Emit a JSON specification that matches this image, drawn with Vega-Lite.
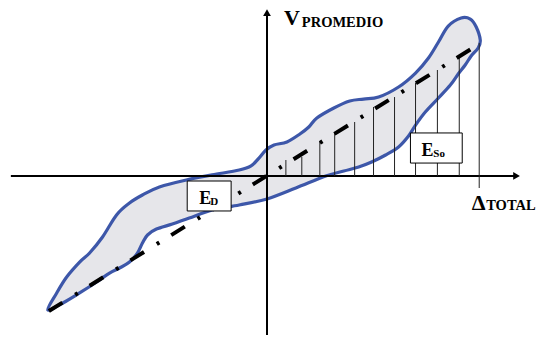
{
  "$schema": "https://vega.github.io/schema/vega-lite/v6.json",
  "width": 536,
  "height": 337,
  "padding": 0,
  "autosize": {"type": "fit", "contains": "padding"},
  "background": "white",
  "view": {"stroke": null},
  "datasets": {
    "loop": [
      {"i": 0, "x": -1.033, "y": -1.015},
      {"i": 1, "x": -0.991, "y": -0.886},
      {"i": 2, "x": -0.944, "y": -0.765},
      {"i": 3, "x": -0.883, "y": -0.652},
      {"i": 4, "x": -0.836, "y": -0.583},
      {"i": 5, "x": -0.775, "y": -0.462},
      {"i": 6, "x": -0.709, "y": -0.295},
      {"i": 7, "x": -0.648, "y": -0.205},
      {"i": 8, "x": -0.587, "y": -0.144},
      {"i": 9, "x": -0.507, "y": -0.083},
      {"i": 10, "x": -0.380, "y": -0.030},
      {"i": 11, "x": -0.258, "y": 0.008},
      {"i": 12, "x": -0.131, "y": 0.045},
      {"i": 13, "x": -0.075, "y": 0.076},
      {"i": 14, "x": -0.038, "y": 0.136},
      {"i": 15, "x": -0.005, "y": 0.197},
      {"i": 16, "x": 0.033, "y": 0.235},
      {"i": 17, "x": 0.094, "y": 0.258},
      {"i": 18, "x": 0.155, "y": 0.318},
      {"i": 19, "x": 0.197, "y": 0.371},
      {"i": 20, "x": 0.235, "y": 0.439},
      {"i": 21, "x": 0.315, "y": 0.515},
      {"i": 22, "x": 0.390, "y": 0.568},
      {"i": 23, "x": 0.455, "y": 0.583},
      {"i": 24, "x": 0.526, "y": 0.598},
      {"i": 25, "x": 0.620, "y": 0.674},
      {"i": 26, "x": 0.700, "y": 0.780},
      {"i": 27, "x": 0.761, "y": 0.894},
      {"i": 28, "x": 0.808, "y": 1.015},
      {"i": 29, "x": 0.854, "y": 1.136},
      {"i": 30, "x": 0.915, "y": 1.197},
      {"i": 31, "x": 0.958, "y": 1.189},
      {"i": 32, "x": 0.986, "y": 1.129},
      {"i": 33, "x": 1.005, "y": 1.030},
      {"i": 34, "x": 0.995, "y": 0.970},
      {"i": 35, "x": 0.962, "y": 0.909},
      {"i": 36, "x": 0.934, "y": 0.841},
      {"i": 37, "x": 0.901, "y": 0.773},
      {"i": 38, "x": 0.864, "y": 0.689},
      {"i": 39, "x": 0.808, "y": 0.591},
      {"i": 40, "x": 0.746, "y": 0.485},
      {"i": 41, "x": 0.700, "y": 0.386},
      {"i": 42, "x": 0.667, "y": 0.303},
      {"i": 43, "x": 0.620, "y": 0.220},
      {"i": 44, "x": 0.559, "y": 0.159},
      {"i": 45, "x": 0.493, "y": 0.106},
      {"i": 46, "x": 0.432, "y": 0.068},
      {"i": 47, "x": 0.362, "y": 0.038},
      {"i": 48, "x": 0.277, "y": 0.000},
      {"i": 49, "x": 0.136, "y": -0.091},
      {"i": 50, "x": 0.000, "y": -0.174},
      {"i": 51, "x": -0.131, "y": -0.220},
      {"i": 52, "x": -0.258, "y": -0.258},
      {"i": 53, "x": -0.366, "y": -0.318},
      {"i": 54, "x": -0.446, "y": -0.364},
      {"i": 55, "x": -0.521, "y": -0.402},
      {"i": 56, "x": -0.563, "y": -0.447},
      {"i": 57, "x": -0.587, "y": -0.508},
      {"i": 58, "x": -0.610, "y": -0.583},
      {"i": 59, "x": -0.648, "y": -0.652},
      {"i": 60, "x": -0.695, "y": -0.697},
      {"i": 61, "x": -0.742, "y": -0.735},
      {"i": 62, "x": -0.803, "y": -0.803},
      {"i": 63, "x": -0.883, "y": -0.886},
      {"i": 64, "x": -0.962, "y": -0.962}
    ],
    "backbone": [
      {"i": 0, "x": -1.028, "y": -1.023},
      {"i": 1, "x": 1.0, "y": 1.0}
    ],
    "hatch": [
      {"x": 0.089, "y": 0, "y2": 0.121},
      {"x": 0.164, "y": 0, "y2": 0.144},
      {"x": 0.249, "y": 0, "y2": 0.258},
      {"x": 0.319, "y": 0, "y2": 0.326},
      {"x": 0.413, "y": 0, "y2": 0.409},
      {"x": 0.502, "y": 0, "y2": 0.523},
      {"x": 0.601, "y": 0, "y2": 0.598},
      {"x": 0.700, "y": 0, "y2": 0.705},
      {"x": 0.803, "y": 0, "y2": 0.803},
      {"x": 0.906, "y": 0, "y2": 0.894},
      {"x": 1.0, "y": -0.091, "y2": 1.008}
    ],
    "hAxis": [{"x": -1.207, "x2": 1.164, "y": 0}],
    "vAxis": [{"x": 0, "y": -1.205, "y2": 1.227}],
    "arrowRight": [{"x": 1.176, "y": 0}],
    "arrowUp": [{"x": 0, "y": 1.237}],
    "boxes": [
      {"x": -0.376, "x2": -0.169, "y": -0.038, "y2": -0.265},
      {"x": 0.676, "x2": 0.920, "y": 0.326, "y2": 0.098}
    ],
    "symbols": [
      {"x": 0.080, "y": 1.144, "t": "V"},
      {"x": 0.965, "y": -0.258, "t": "Δ"}
    ],
    "axisSubs": [
      {"x": 0.164, "y": 1.129, "t": "PROMEDIO"},
      {"x": 1.033, "y": -0.258, "t": "TOTAL"}
    ],
    "energies": [
      {"x": -0.319, "y": -0.212, "t": "E"},
      {"x": 0.728, "y": 0.152, "t": "E"}
    ],
    "energySubs": [
      {"x": -0.268, "y": -0.220, "t": "D"},
      {"x": 0.784, "y": 0.144, "t": "So"}
    ]
  },
  "encoding": {
    "x": {"field": "x", "type": "quantitative", "axis": null,
          "scale": {"domain": [-1.2582, 1.2582], "nice": false, "zero": false}},
    "y": {"field": "y", "type": "quantitative", "axis": null,
          "scale": {"domain": [-1.2197, 1.3333], "nice": false, "zero": false}}
  },
  "layer": [
    {
      "data": {"name": "loop"},
      "mark": {"type": "line", "interpolate": "cardinal-closed", "fill": "#e6e6ea",
               "stroke": "#3d57a9", "strokeWidth": 3.2, "strokeJoin": "round"},
      "encoding": {"order": {"field": "i", "type": "quantitative"}}
    },
    {
      "data": {"name": "hAxis"},
      "mark": {"type": "rule", "color": "black", "strokeWidth": 2},
      "encoding": {"x2": {"field": "x2"}}
    },
    {
      "data": {"name": "vAxis"},
      "mark": {"type": "rule", "color": "black", "strokeWidth": 2},
      "encoding": {"y2": {"field": "y2"}}
    },
    {
      "data": {"name": "hatch"},
      "mark": {"type": "rule", "color": "#222222", "strokeWidth": 1},
      "encoding": {"y2": {"field": "y2"}}
    },
    {
      "data": {"name": "backbone"},
      "mark": {"type": "line", "color": "black", "strokeWidth": 4,
               "strokeDash": [16, 15, 3, 14], "strokeCap": "butt"},
      "encoding": {"order": {"field": "i", "type": "quantitative"}}
    },
    {
      "data": {"name": "arrowRight"},
      "mark": {"type": "point", "shape": "triangle-right", "filled": true,
               "color": "black", "size": 60, "opacity": 1}
    },
    {
      "data": {"name": "arrowUp"},
      "mark": {"type": "point", "shape": "triangle-up", "filled": true,
               "color": "black", "size": 60, "opacity": 1}
    },
    {
      "data": {"name": "boxes"},
      "mark": {"type": "rect", "fill": "white", "stroke": "black", "strokeWidth": 1},
      "encoding": {"x2": {"field": "x2"}, "y2": {"field": "y2"}}
    },
    {
      "data": {"name": "symbols"},
      "mark": {"type": "text", "font": "Liberation Serif", "fontWeight": "bold",
               "fontSize": 22, "align": "left", "baseline": "alphabetic", "color": "black"},
      "encoding": {"text": {"field": "t"}}
    },
    {
      "data": {"name": "axisSubs"},
      "mark": {"type": "text", "font": "Liberation Serif", "fontWeight": "bold",
               "fontSize": 14.5, "align": "left", "baseline": "alphabetic", "color": "black"},
      "encoding": {"text": {"field": "t"}}
    },
    {
      "data": {"name": "energies"},
      "mark": {"type": "text", "font": "Liberation Serif", "fontWeight": "bold",
               "fontSize": 18, "align": "left", "baseline": "alphabetic", "color": "black"},
      "encoding": {"text": {"field": "t"}}
    },
    {
      "data": {"name": "energySubs"},
      "mark": {"type": "text", "font": "Liberation Serif", "fontWeight": "bold",
               "fontSize": 11, "align": "left", "baseline": "alphabetic", "color": "black"},
      "encoding": {"text": {"field": "t"}}
    }
  ]
}
